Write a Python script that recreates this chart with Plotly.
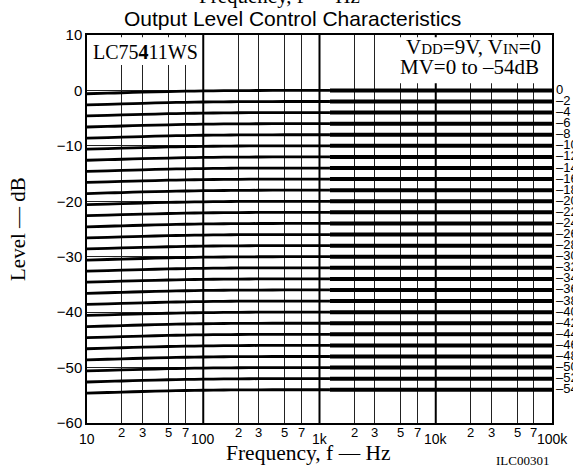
import math
import plotly.graph_objects as go

# Volume (MV) settings, dB
mv_settings = [0, -2, -4, -6, -8, -10, -12, -14, -16, -18, -20, -22, -24, -26,
               -28, -30, -32, -34, -36, -38, -40, -42, -44, -46, -48, -50, -52, -54]
mv_labels = ["0", "–2", "–4", "–6", "–8", "–10", "–12", "–14", "–16", "–18",
             "–20", "–22", "–24", "–26", "–28", "–30", "–32", "–34", "–36", "–38",
             "–40", "–42", "–44", "–46", "–48", "–50", "–52", "–54"]

# Low-frequency roll-off shared by all curves (dB relative to the setting)
lf_freq = [10, 15, 20, 30, 50, 70, 100, 150, 200, 300, 500, 1000, 1230]
lf_droop = [-0.6, -0.5, -0.42, -0.32, -0.2, -0.14, -0.09, -0.05, -0.03, -0.01, 0, 0, 0]
hf_freq = [1230, 100000]

# Axis ticks
decade_vals = [10, 100, 1000, 10000, 100000]
decade_text = ["10", "100", "1k", "10k", "100k"]
minor_vals = [20, 30, 50, 70, 200, 300, 500, 700, 2000, 3000, 5000, 7000,
              20000, 30000, 50000, 70000]
minor_text = ["2", "3", "5", "7", "2", "3", "5", "7", "2", "3", "5", "7",
              "2", "3", "5", "7"]
level_vals = [10, 0, -10, -20, -30, -40, -50, -60]
level_text = ["10", "0", "−10", "−20", "−30", "−40", "−50", "−60"]

SANS = "Liberation Sans"
SERIF = "Liberation Serif"

fig = go.Figure()
for mv in mv_settings:
    fig.add_trace(go.Scatter(
        x=lf_freq, y=[mv + d for d in lf_droop], mode="lines",
        line=dict(color="black", width=2.8, shape="spline", smoothing=0.8),
        hoverinfo="skip", showlegend=False))
    fig.add_trace(go.Scatter(
        x=hf_freq, y=[mv, mv], mode="lines",
        line=dict(color="black", width=4),
        hoverinfo="skip", showlegend=False))

shapes = []
# heavier decade lines
for f in decade_vals[1:-1]:
    shapes.append(dict(type="line", xref="x", yref="paper", x0=f, x1=f, y0=0, y1=1,
                       line=dict(color="black", width=2), layer="between"))
# blank panels behind the inset text
shapes.append(dict(type="rect", xref="x", yref="y", x0=10, x1=97, y0=4.6, y1=9.6,
                   fillcolor="white", line=dict(width=0), layer="between"))
shapes.append(dict(type="rect", xref="x", yref="y", x0=3100, x1=100000, y0=1.3, y1=9.6,
                   fillcolor="white", line=dict(width=0), layer="between"))

ann = []
# annotations on a log axis take log10 positions
for v, t in zip(decade_vals, decade_text):
    ann.append(dict(x=math.log10(v), xref="x", y=0, yref="paper", text=t, showarrow=False,
                    xanchor="center", yanchor="middle", yshift=-16,
                    font=dict(family=SANS, size=14, color="black")))
for v, t in zip(minor_vals, minor_text):
    ann.append(dict(x=math.log10(v), xref="x", y=0, yref="paper", text=t, showarrow=False,
                    xanchor="center", yanchor="middle", yshift=-9,
                    font=dict(family=SANS, size=13, color="black")))
for mv, t in zip(mv_settings, mv_labels):
    ann.append(dict(x=1, xref="paper", y=mv, yref="y", text=t, showarrow=False,
                    xanchor="left", yanchor="middle", xshift=2, yshift=1,
                    font=dict(family=SANS, size=13, color="black")))

ann += [
    dict(x=0.442, xref="paper", y=1, yref="paper", yshift=17, text="Output Level Control Characteristics",
         showarrow=False, xanchor="center", yanchor="middle",
         font=dict(family=SANS, size=21, color="black")),
    dict(x=0.415, xref="paper", y=1, yref="paper", yshift=39, text="Frequency, f — Hz",
         showarrow=False, xanchor="center", yanchor="middle",
         font=dict(family=SERIF, size=21, color="black")),
    dict(x=0.477, xref="paper", y=0, yref="paper", yshift=-30, text="Frequency, f — Hz",
         showarrow=False, xanchor="center", yanchor="middle",
         font=dict(family=SERIF, size=21.5, color="black")),
    dict(x=0, xref="paper", xshift=-69, y=0.5, yref="paper", text="Level — dB",
         textangle=-90, showarrow=False, xanchor="center", yanchor="middle",
         font=dict(family=SERIF, size=21, color="black")),
    dict(x=0.9376, xref="paper", y=0, yref="paper", yshift=-37, text="ILC00301",
         showarrow=False, xanchor="center", yanchor="middle",
         font=dict(family=SERIF, size=13, color="black")),
    dict(x=0, xref="paper", xshift=4, y=1, yref="paper", yshift=-17,
         text="LC75<b>4</b>11WS", showarrow=False, xanchor="left", yanchor="middle",
         font=dict(family=SERIF, size=20, color="black")),
    dict(x=1, xref="paper", xshift=-9, y=1, yref="paper", yshift=-12,
         text="V<span style='font-size:15px'>DD</span>=9V, V<span style='font-size:15px'>IN</span>=0",
         showarrow=False, xanchor="right", yanchor="middle",
         font=dict(family=SERIF, size=21, color="black")),
    dict(x=1, xref="paper", xshift=-11, y=1, yref="paper", yshift=-32,
         text="MV=0 to –54dB", showarrow=False, xanchor="right", yanchor="middle",
         font=dict(family=SERIF, size=21, color="black")),
]

fig.update_layout(
    width=573, height=470,
    margin=dict(l=87, r=21, t=35, b=47),
    paper_bgcolor="white", plot_bgcolor="white",
    shapes=shapes, annotations=ann,
    xaxis=dict(type="log", range=[1, 5], tickvals=minor_vals, showticklabels=False,
               showgrid=True, gridcolor="#222", gridwidth=1, zeroline=False,
               showline=True, linecolor="black", linewidth=1.5, mirror=True, ticks=""),
    yaxis=dict(range=[-60, 10], tickvals=level_vals, ticktext=level_text,
               showgrid=True, gridcolor="#222", gridwidth=1, zeroline=False,
               showline=True, linecolor="black", linewidth=1.5, mirror=True, ticks="",
               tickfont=dict(family=SANS, size=15, color="black")),
)

fig.write_html("out.html")
